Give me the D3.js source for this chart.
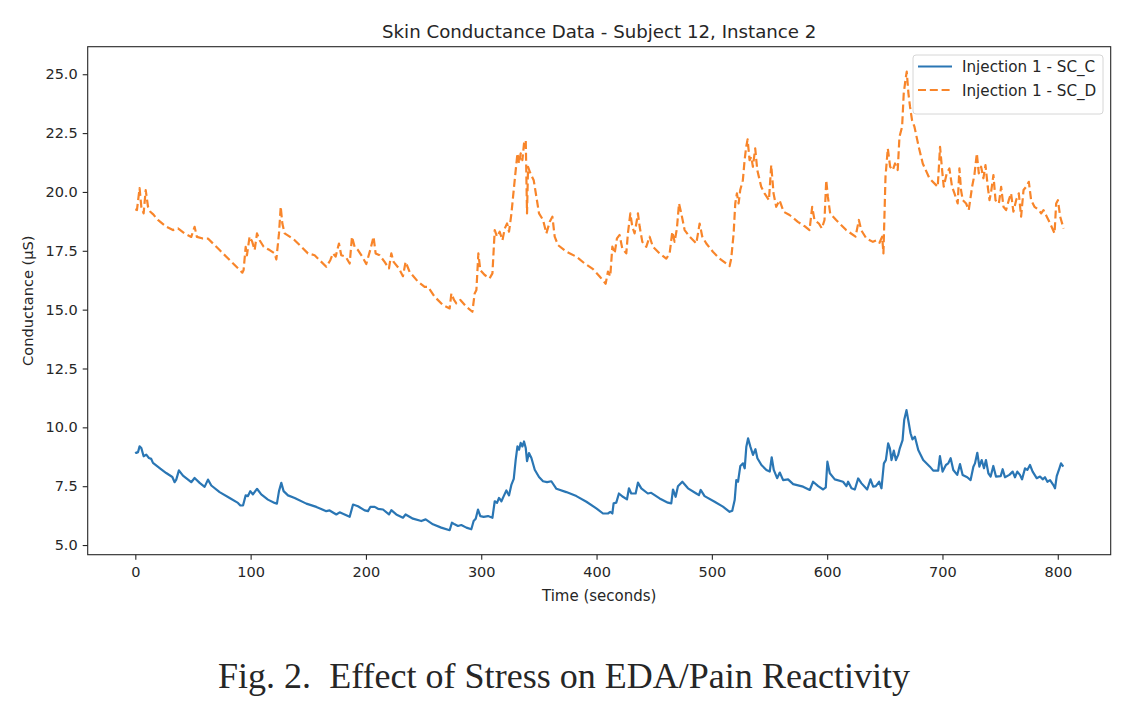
<!DOCTYPE html>
<html>
<head>
<meta charset="utf-8">
<script src="https://cdn.jsdelivr.net/npm/d3@7"></script>
<style>
  html, body { margin: 0; padding: 0; background: #fff; }
  svg { display: block; }
  text { font-family: "DejaVu Sans", sans-serif; fill: #262626; }
</style>
</head>
<body>
<svg id="chart" width="1132" height="716"></svg>
<script>
// ---- data ----
const chartTitle = "Skin Conductance Data - Subject 12, Instance 2";
const xLabel = "Time (seconds)";
const yLabel = "Conductance (μS)";
const caption = "Fig. 2.  Effect of Stress on EDA/Pain Reactivity";
const seriesNames = ["Injection 1 - SC_C", "Injection 1 - SC_D"];
const xTicks = [0, 100, 200, 300, 400, 500, 600, 700, 800];
const yTicks = [5.0, 7.5, 10.0, 12.5, 15.0, 17.5, 20.0, 22.5, 25.0];

// SC_C (solid blue)
const timeC = [0,0.8,2.3,3.7,5.2,7.2,9.5,11.8,13.8,15.3,21.1,26.8,32.1,34.1,35.5,37.8,41.3,48.5,51.4,55.8,60.1,63,65.9,73.1,81.8,89,91.1,93.4,95.7,97.7,99.7,102,105.5,109.2,115,120.8,122.8,124.6,126.6,128.6,132.4,138.2,148.3,157,165.6,168.5,174.3,177.2,181.5,185.9,188.8,193.1,198.9,201.8,203.8,207.6,210.5,214.8,220,222,226.3,232.1,234.4,240.8,248,251.8,258.1,265.3,272.6,274.6,276.9,279.8,282.7,287.1,291.4,293.4,295.2,297.2,299.2,302.1,305.9,309.7,311.7,313.7,315.4,317.5,319.5,321.8,324.1,326.2,328.2,329.9,331.4,332.8,334.2,335.7,337.1,338.6,339.7,341.4,343.5,346.4,350.1,353.6,357.1,360.8,365.2,373.8,382.5,391.2,399.8,405.6,409.9,411.9,413.7,414.8,417.1,419.4,422.9,426.4,428.1,430.1,433.9,435.9,438.8,444.5,447.4,454.7,461.9,464.8,466.3,468.6,470.6,474.4,479.3,486.5,488.8,490.3,493.7,502.4,509.6,515.4,517.7,519.8,521.2,522.7,524.7,527,528.5,529.9,531.4,533.4,535.7,537.8,539.5,543,547.3,550.2,551.9,553.7,556.6,558.9,561.8,566.1,570.5,579.1,584.9,587.8,592.2,596.5,598.8,600.2,602.3,606.6,613.8,616.7,618.2,621.1,624,626.9,629.8,634.7,637.6,639.9,642.2,645.1,647.1,649.2,650.9,652.9,654.4,655.8,657.8,659.6,661.6,663,665.4,666.8,668.8,670.3,672.3,674,676.1,679,683.3,689.1,692,696.3,697.8,700.1,703,705,707.1,709.4,712.8,715.2,717.5,721.5,724.4,726.8,728.2,730.2,732,734,736,737.7,739.8,741.8,744.1,746.4,750.5,752.2,754.2,758,760.9,762.9,764.9,767.2,769,771.6,773.6,775.9,778.2,781.7,784.6,786.9,788.9,791,793.3,796.2,797.6,799.1,801.4,802.8,804.8];
const valueC = [8.95,8.91,8.94,9.19,9.12,8.77,8.84,8.7,8.66,8.49,8.27,8.06,7.89,7.67,7.78,8.17,7.95,7.67,7.85,7.64,7.47,7.78,7.53,7.25,7.0,6.79,6.68,6.68,7.11,7.08,7.29,7.15,7.39,7.15,6.93,6.79,6.76,7.29,7.64,7.29,7.11,7.0,6.76,6.62,6.44,6.47,6.3,6.39,6.3,6.2,6.72,6.65,6.47,6.44,6.62,6.62,6.54,6.51,6.3,6.48,6.3,6.16,6.3,6.12,6.02,6.09,5.88,5.74,5.63,5.95,5.88,5.81,5.85,5.74,5.67,6.02,6.12,6.51,6.23,6.2,6.23,6.16,6.86,6.79,7.0,6.86,7.08,7.32,7.11,7.57,7.81,8.63,9.19,9.05,9.34,9.19,9.4,9.12,8.56,8.91,8.7,8.2,7.89,7.71,7.67,7.71,7.39,7.25,7.08,6.84,6.56,6.34,6.34,6.41,6.34,6.77,6.8,7.19,7.05,6.94,7.41,7.19,7.19,7.65,7.41,7.19,7.22,6.98,6.8,6.77,7.36,7.05,7.5,7.69,7.41,7.19,7.12,7.34,7.08,6.84,6.63,6.41,6.46,6.91,7.76,7.69,8.36,8.47,8.26,9.18,9.53,9.18,8.83,9.07,8.69,8.4,8.19,8.12,8.73,8.19,7.84,8.08,7.76,7.79,7.59,7.48,7.34,7.69,7.5,7.36,7.45,8.54,8.05,7.79,7.69,7.5,7.69,7.41,7.36,7.83,7.62,7.36,7.79,7.48,7.5,7.69,7.41,8.47,8.61,9.32,9.11,8.61,9.01,8.61,8.83,9.11,9.46,10.31,10.73,10.31,9.75,9.49,9.6,9.04,8.61,8.33,8.16,8.16,8.78,8.12,8.4,8.47,8.69,8.19,7.98,8.44,7.98,7.88,7.76,8.33,8.47,8.92,8.33,8.61,8.26,8.61,8.05,7.91,8.36,7.91,7.93,8.22,7.88,7.98,8.12,7.88,8.12,7.98,7.79,8.26,8.19,8.4,8.12,7.84,7.91,7.79,7.88,7.69,7.76,7.55,7.41,7.93,8.26,8.47,8.33];

// SC_D (dashed orange)
const timeD = [0,1.4,3.7,5.2,7.2,9,11,13,15.3,19.6,26.9,32.6,37,42.8,48.5,51.4,53.4,58.6,63,65.9,73.1,81.8,92.8,93.9,95.7,96.8,99.1,101.4,103.5,105.5,107.8,111.3,116.5,120.8,122.3,124.6,126.1,127.5,129.5,133.9,138.2,144,149.7,155.5,159.9,165.6,169.1,171.4,173.7,176.6,178.6,182.4,185.9,187.9,190.2,193.1,196.8,200.3,203.7,206.6,208.4,211.9,216.2,220,222,224,228.6,232.1,234.4,237.9,245.1,250.9,253.8,259.6,266.8,272.6,274.1,276.4,278.4,281.9,287.1,292.3,294.3,295.8,297.5,299.2,303,307.3,309.7,311.7,313.7,316,318.4,320.4,322.4,324.1,326.2,327.6,329.9,331.4,332.8,334.2,335.7,337.1,338.6,339.7,340.6,342.6,345.5,347.8,350.1,353.6,356.5,359.4,361.7,363.7,366.6,373.8,382.5,389.7,397,402.7,407.9,409.9,411.9,413.7,415.7,417.7,420,422.3,425.8,427.2,429.3,431,433,434.5,435.9,437.4,439.7,443.1,446,448.9,454.7,460.5,463.4,465.7,467.7,469.7,471.5,473.5,476.4,480.7,486.5,489.4,491.7,495.2,500.9,506.7,515.4,516.8,518.9,520.3,521.7,523.2,524.6,526.9,528.4,529.8,531,532.7,534.2,535.6,537.6,539.4,542.8,545.7,549.5,551.5,553.5,555.8,558.7,562.2,567.4,574.6,581.2,584.7,587,589,592.8,595.4,597.7,599.2,600.6,602.6,607.8,616.5,624.6,627.5,629.5,633.9,639.7,643.1,645.4,647.7,648.8,650.6,652.6,654.6,656.9,658.9,661.2,662.7,665,666.4,667.9,669,670.5,671.9,673.6,675.7,679.4,682.9,688.7,695.9,697.9,699.7,701.1,703.7,706,708.3,710.4,713.2,714.7,716.1,717.6,720.5,722.8,725.7,727.7,729.8,731.5,733.5,735.5,737.3,739.3,740.8,742.2,744.2,746,748.9,750.9,752.9,755.2,757.5,759.5,761.5,763.9,766.2,768.2,770.3,772.6,774.9,776.9,779.8,783.6,785.6,787.6,790.5,793.4,797.2,798.6,800.1,802.1,805];
const valueD = [19.26,19.23,20.16,19.37,19.09,20.08,19.37,19.16,19.06,18.81,18.52,18.38,18.45,18.23,18.09,18.52,18.09,18.02,18.02,17.88,17.53,17.11,16.57,16.68,17.67,17.31,18.1,17.88,17.53,18.24,17.95,17.67,17.53,17.39,17.13,18.24,19.37,18.66,18.24,18.1,17.95,17.67,17.39,17.31,17.1,16.82,17.1,17.39,17.25,17.81,17.31,17.25,16.96,18.1,17.67,17.53,17.25,16.94,17.53,18.1,17.39,17.31,17.03,16.75,17.39,17.03,16.75,16.42,17.03,16.6,16.19,15.97,15.97,15.55,15.19,15.05,15.69,15.41,15.27,15.41,15.12,14.91,15.69,15.83,17.39,16.68,16.47,16.33,16.54,18.38,18.1,18.31,17.95,18.45,18.66,18.31,19.09,19.8,20.93,21.64,21.21,21.64,21.35,22.06,22.2,19.09,21.07,20.79,20.5,19.8,19.09,18.81,18.24,18.73,18.95,18.1,17.74,17.46,17.25,16.96,16.72,16.41,16.1,16.62,16.41,17.68,17.39,18.03,18.17,17.6,17.39,18.24,19.09,18.52,18.24,18.66,19.09,18.52,17.88,17.67,18.1,17.67,17.39,17.17,17.39,18.31,17.88,18.45,19.51,19.09,18.38,18.1,17.81,18.66,18.1,17.81,17.46,17.17,16.85,17.17,18.24,19.51,19.94,19.51,20.08,20.5,21.35,21.92,22.23,21.35,21.49,21.07,21.85,20.93,20.22,19.94,19.65,21.14,19.94,19.37,19.65,19.16,19.02,18.73,18.52,18.38,19.37,18.81,18.66,18.45,18.81,20.5,19.8,19.09,18.81,18.38,18.1,18.81,18.38,18.03,17.88,17.95,17.84,18.1,17.39,20.65,21.85,21.07,20.93,21.21,20.93,22.34,22.77,24.18,24.75,25.11,24.18,23.61,23.05,22.77,21.92,21.21,20.58,20.22,21.92,20.93,20.22,20.79,21,20.22,19.94,19.51,21,20.08,19.65,19.51,19.23,20.22,20.72,21.64,20.79,21.07,20.58,21.14,20.22,19.65,20.01,20.72,19.65,19.51,20.22,19.37,19.23,19.65,19.94,19.16,19.65,19.94,18.95,20.08,20.22,20.43,19.65,19.37,19.23,19.09,19.23,18.95,18.66,18.24,19.51,19.65,18.95,18.45];

// ---- layout ----
const plot = { left: 87.7, top: 46.7, right: 1110.7, bottom: 554.7 };
const colors = ["#2a76b4", "#f8852a"];
const dash = "8,3.8";

const svg = d3.select("#chart");
const x = d3.scaleLinear().domain([-41.3, 845.9]).range([plot.left, plot.right]);
const y = d3.scaleLinear().domain([4.59, 26.17]).range([plot.bottom, plot.top]);

svg.append("defs").append("clipPath").attr("id", "clip")
  .append("rect").attr("x", plot.left).attr("y", plot.top)
  .attr("width", plot.right - plot.left).attr("height", plot.bottom - plot.top);

const seriesC = timeC.map((t, i) => [t, valueC[i]]);
const seriesD = timeD.map((t, i) => [t, valueD[i]]);
const line = d3.line().x(d => x(d[0])).y(d => y(d[1]));

const g = svg.append("g").attr("clip-path", "url(#clip)");
g.append("path").datum(seriesC).attr("d", line)
  .attr("fill", "none").attr("stroke", colors[0]).attr("stroke-width", 2.2)
  .attr("stroke-linejoin", "round").attr("stroke-linecap", "butt");
g.append("path").datum(seriesD).attr("d", line)
  .attr("fill", "none").attr("stroke", colors[1]).attr("stroke-width", 2.2)
  .attr("stroke-dasharray", dash)
  .attr("stroke-linejoin", "round").attr("stroke-linecap", "butt");

// axes
const xAxis = d3.axisBottom(x).tickValues(xTicks).tickSize(5).tickPadding(7.5).tickFormat(d3.format("d"));
const yAxis = d3.axisLeft(y).tickValues(yTicks).tickSize(5).tickPadding(5).tickFormat(d3.format(".1f"));

const gx = svg.append("g").attr("transform", `translate(0,${plot.bottom})`).call(xAxis);
const gy = svg.append("g").attr("transform", `translate(${plot.left},0)`).call(yAxis);
[gx, gy].forEach(a => {
  a.select(".domain").remove();
  a.selectAll(".tick line").attr("stroke", "#262626").attr("stroke-width", 1.1);
  a.selectAll(".tick text").attr("font-size", 14.5).attr("fill", "#262626")
    .style("font-family", "'DejaVu Sans', sans-serif");
});

// frame
svg.append("rect").attr("x", plot.left).attr("y", plot.top)
  .attr("width", plot.right - plot.left).attr("height", plot.bottom - plot.top)
  .attr("fill", "none").attr("stroke", "#262626").attr("stroke-width", 1.1);

// title and labels
svg.append("text").attr("x", (plot.left + plot.right) / 2).attr("y", 38)
  .attr("text-anchor", "middle").attr("font-size", 18.2).text(chartTitle);
svg.append("text").attr("x", (plot.left + plot.right) / 2).attr("y", 600.5)
  .attr("text-anchor", "middle").attr("font-size", 15).text(xLabel);
svg.append("text").attr("transform", `translate(33,${(plot.top + plot.bottom) / 2}) rotate(-90)`)
  .attr("text-anchor", "middle").attr("font-size", 14.6).text(yLabel);

// legend
const lg = svg.append("g");
lg.append("rect").attr("x", 913).attr("y", 55).attr("width", 190).attr("height", 59)
  .attr("rx", 3).attr("fill", "#fff").attr("fill-opacity", 0.8)
  .attr("stroke", "#d6d6d6").attr("stroke-width", 1);
seriesNames.forEach((name, i) => {
  const yy = 66.5 + i * 23.5;
  lg.append("line").attr("x1", 918).attr("x2", 952).attr("y1", yy).attr("y2", yy)
    .attr("stroke", colors[i]).attr("stroke-width", 2.2)
    .attr("stroke-dasharray", i === 1 ? dash : null);
  lg.append("text").attr("x", 962).attr("y", yy + 5.5).attr("font-size", 15.2).text(name);
});

// caption
svg.append("text").attr("x", 218).attr("y", 688)
  .attr("xml:space", "preserve").style("white-space", "pre")
  .attr("textLength", 692).attr("lengthAdjust", "spacing")
  .style("font-family", "'Liberation Serif', 'Times New Roman', serif")
  .attr("font-size", 36).attr("fill", "#000").text(caption);
</script>
</body>
</html>
